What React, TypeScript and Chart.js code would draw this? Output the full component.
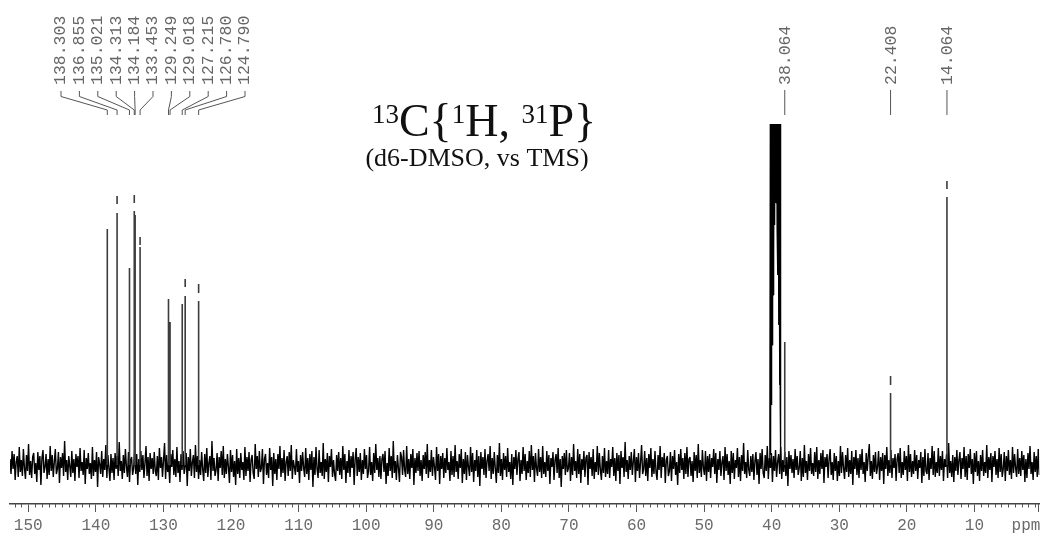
import React, { useEffect, useRef } from "react";
import { Chart, registerables } from "chart.js";

Chart.register(...registerables);

// ---- axis ----
const xMinPpm = 0.4;
const xMaxPpm = 152.7;
const axisTicks = [150, 140, 130, 120, 110, 100, 90, 80, 70, 60, 50, 40, 30, 20, 10];

// ---- labelled aromatic peaks (ppm, intensity above baseline) ----
const leftPeakPpm = [138.303, 136.855, 135.021, 134.313, 134.184, 133.453, 129.249, 129.018, 127.215, 126.78, 124.79];
const leftPeakHeight = [236, 252, 197, 254, 250, 218, 166, 143, 161, 169, 164];
const leftPeakDashLow = [0, 261, 0, 262, 0, 220, 0, 0, 0, 178, 172];
const leftPeakDashHigh = [0, 269, 0, 270, 0, 228, 0, 0, 0, 186, 181];

// ---- labelled aliphatic peaks ----
const rightPeakPpm = [38.064, 22.408, 14.064];
const rightPeakHeight = [123, 72, 268];
const rightPeakDashLow = [0, 80, 276];
const rightPeakDashHigh = [0, 89, 284];

// ---- solvent multiplet (d6-DMSO) ----
const solventPpm = [40.28, 40.21, 40.15, 40.09, 40.03, 39.97, 39.91, 39.85, 39.79, 39.73, 39.67, 39.62, 39.56, 39.5, 39.44, 39.38, 39.32, 39.26, 39.2, 39.14, 39.08, 39.02, 38.96, 38.91, 38.85, 38.79, 38.74, 38.7, 38.64];
const solventHeight = [0, 341, 10, 341, 60, 341, 120, 341, 170, 341, 210, 341, 240, 341, 262, 341, 262, 341, 235, 341, 190, 341, 140, 341, 80, 341, 60, 341, 0];

// ---- baseline noise (estimated along the spectrum, left to right) ----
const noise = [
  6, -9, 14, -4, 11, -15, 3, 9, -12, 18, -7, 5, -11, 16, -3, -14, 10, -6, 21, -10,
  4, -13, 8, 12, -9, 2, -17, 13, -5, 9, -20, 7, 15, -8, -2, 11, -14, 6, -10, 19,
  -6, 10, -12, 3, 16, -9, -4, 13, -18, 8, -3, 12, -11, 24, -7, 5, -15, 9, -1, -12,
  14, -8, 6, -16, 11, -2, 9, -13, 17, -6, 3, -10, 15, -19, 7, -4, 12, -9, 2, -14,
  18, -11, 5, -7, 13, -22, 8, 1, -9, 14, -12, 6, -5, 20, -13, 10, -3, -16, 11, -8,
  7, -15, 12, -4, 9, -11, 23, -6, 4, -14, 10, -8, 16, -2, -12, 13, -17, 5, 8, -10,
  -3, 15, -9, 11, -20, 6, -7, 14, -5, 10, -13, 2, 19, -11, 8, -16, 12, -4, 7, -9,
  13, -6, -11, 9, -15, 17, -3, 8, -12, 5, 22, -14, 10, -7, 3, -18, 11, -2, 15, -10,
  6, -12, 18, -8, 4, -17, 11, -5, 14, -9, -2, 12, -21, 8, -6, 16, -11, 3, 10, -13,
  20, -7, 9, -14, 5, -10, 13, -4, -16, 11, -8, 17, -12, 2, 9, -15, 24, -6, 7, -11,
  -5, 12, -16, 8, -3, 14, -10, 19, -13, 6, -9, 11, -2, -18, 15, -7, 10, -12, 4, -20,
  16, -9, 7, -13, 12, -5, 3, -15, 18, -11, 8, -6, 13, -17, 5, 10, -8, -14, 21, -4,
  9, -12, 14, -7, -3, 16, -19, 6, 11, -10, 2, -13, 17, -5, 8, -21, 12, -9, 6, -15,
  11, -4, 19, -12, 7, -8, 15, -16, 3, 9, -11, 13, -6, 20, -14, 5, -2, -10, 16, -7,
  4, -18, 10, -6, 13, -3, -12, 17, -9, 7, -15, 11, -5, 14, -22, 8, -10, 18, -4, -13,
  15, -8, 3, -11, 22, -14, 6, -7, 12, -17, 9, -2, 16, -12, 5, -9, -16, 10, -6, 13,
  -10, 7, -14, 19, -5, 11, -18, 4, -8, 15, -12, 9, -3, 13, -20, 6, 17, -11, 8, -7,
  12, -15, 5, -9, 16, -4, 10, -13, -6, 18, -10, 3, -16, 12, -8, 21, -5, 7, -12, 9,
  -14, 6, 11, -7, 14, -19, 2, -11, 17, -6, 9, -13, 24, -8, 4, -15, 10, -3, -17, 13,
  8, -10, 15, -5, -12, 19, -9, 6, -14, 11, -3, 16, -20, 7, -8, 12, -6, 14, -11, 5,
  -16, 10, -4, 13, -9, 21, -13, 5, -7, 15, -11, 8, -2, -15, 18, -6, 11, -19, 9, -4,
  12, -13, 7, -8, 17, -5, 3, -16, 14, -10, 9, -12, 20, -7, 4, -14, 11, -3, 16, -18,
  6, -9, 13, -15, 10, -2, -11, 18, -7, 12, -17, 5, -6, 15, -12, 9, -21, 13, -4, 8,
  -10, 16, -13, 4, 11, -6, 19, -14, 7, -9, 13, -3, -18, 10, -8, 22, -11, 6, -15, 12,
  -5, 9, -12, 17, -7, 3, -14, 11, -20, 8, -4, 15, -10, 6, 13, -16, 5, -9, 18, -6,
  11, -15, 4, -8, 14, -12, 20, -5, 9, -17, 12, -3, -11, 16, -7, 8, -13, 19, -9, 3,
  -12, 14, -6, 10, -19, 7, -2, 13, -15, 5, 11, -8, 17, -13, 6, -22, 9, -4, 12, -10,
  15, -7, -3, 12, -16, 8, -10, 21, -6, 4, -13, 16, -9, 11, -18, 6, -5, 14, -12, 7,
  10, -20, 13, -4, 8, -11, 16, -14, 3, -7, 19, -10, 12, -5, -15, 9, -8, 17, -12, 4,
  -9, 15, -13, 6, -2, 18, -11, 7, -16, 12, -6, 10, -19, 14, -3, 8, -12, 23, -7, 5,
  -14, 9, -5, 13, -10, 4, 16, -17, 8, -6, 12, -13, 3, 20, -9, -4, 14, -11, 7, -16,
  11, -3, 17, -12, 6, -9, 14, -7, -15, 10, -5, 19, -13, 8, -2, 12, -18, 5, 9, -11,
  -6, 13, -16, 9, -4, 15, -10, 3, -20, 11, -8, 16, -5, 7, -14, 12, -9, 18, -12, 6,
  8, -11, 4, -17, 13, -6, 10, -13, 21, -8, 5, -12, 15, -3, -10, 14, -16, 9, -7, 11,
  -13, 7, -2, 16, -9, 12, -18, 6, -5, 14, -11, 3, 9, -15, 18, -6, 11, -10, 4, -19,
  14, -8, 12, -14, 5, -3, 17, -12, 8, -16, 10, -6, 22, -9, 3, -13, 15, -5, -11, 9,
  -7, 11, -15, 4, 13, -10, 6, -19, 12, -4, 16, -8, -13, 10, -6, 19, -14, 7, -3, 12,
  -17, 9, -6, 15, -12, 3, 11, -9, 18, -14, 5, -7, 13, -11, 8, -21, 14, -4, 10, -8,
  6, -13, 16, -5, 9, -10, -3, 14, -16, 7, -12, 20, -8, 4, -15, 11, -6, 17, -9, 2,
  -11, 13, -7, 18, -14, 5, -9, 12, -4, 15, -18, 8, -2, 11, -13, 6, 16, -10, 3, -15,
  12, -6, 9, -16, 4, -11, 19, -8, 13, -3, -14, 10, -7, 17, -12, 5, -9, 14, -20, 8,
  -4, 15, -10, 7, -13, 11, -5, 16, -9, 3, -17, 12, -6, 9, 21, -11, 4, -14, 10, -7,
  13, -9, -2, 14, -15, 8, -6, 12, -19, 10, -4, 18, -11, 5, -8, 15, -13, 7, -3, 11,
  -16, 6, 12, -8, 17, -13, 3, -10, 14, -5, 9, -16, 20, -7, 11, -12, 4, -9, 15, -6,
  10, -14, 5, -3, 13, -18, 8, -11, 16, -6, -9, 12, -15, 7, -4, 19, -10, 14, -12, 3,
  -8, 17, -11, 9, -5, 14, -16, 6, -2, 11, -13, 22, -8, 4, -12, 10, -17, 8, -6, 15,
  -10, 5, 13, -14, 7, -4, 18, -12, 9, -15, 11, -3, 16, -9, 6, -19, 12, -7, 14, -11,
  4, -16, 10, -6, 15, -11, 3, -8, 20, -13, 8, -5, 12, -17, 9, -2, 14, -10, 6, -13,
  17, -7, 11, -12, -4, 13, -16, 9, -6, 15, -10, 5, -14, 18, -8, 11, -3, -12, 16, -9,
  7, -11, 14, -5, 10, -17, 6, -13, 12, -4, 19, -9, 3, -15, 13, -7, 9, -12, 16, -10,
];

const MONO = "'Liberation Mono', 'DejaVu Sans Mono', monospace";
const SERIF = "'Liberation Serif', 'DejaVu Serif', serif";

type Pt = { x: number; y: number | null };

function buildPeaks(): Pt[] {
  const pts: Pt[] = [];
  const add = (p: number, h: number, dl: number, dh: number) => {
    pts.push({ x: p, y: 0 }, { x: p, y: h }, { x: p, y: null });
    if (dh > 0) pts.push({ x: p, y: dl }, { x: p, y: dh }, { x: p, y: null });
  };
  leftPeakPpm.forEach((p, i) => add(p, leftPeakHeight[i], leftPeakDashLow[i], leftPeakDashHigh[i]));
  rightPeakPpm.forEach((p, i) => add(p, rightPeakHeight[i], rightPeakDashLow[i], rightPeakDashHigh[i]));
  return pts;
}

const decorPlugin = {
  id: "nmrDecor",
  afterDraw(chart: any) {
    const ctx: CanvasRenderingContext2D = chart.ctx;
    const xs = chart.scales.x;
    const area = chart.chartArea;
    const axisY = area.bottom;
    ctx.save();

    // minor ticks every 1 ppm
    ctx.strokeStyle = "#555";
    ctx.lineWidth = 1;
    ctx.beginPath();
    for (let p = 1; p <= 152; p++) {
      if (p % 10 === 0) continue;
      const x = Math.round(xs.getPixelForValue(p)) + 0.5;
      ctx.moveTo(x, axisY);
      ctx.lineTo(x, axisY + 3.5);
    }
    const xr = Math.round(area.right) - 0.5;
    ctx.moveTo(xr, axisY);
    ctx.lineTo(xr, axisY + 8);
    ctx.stroke();

    // "ppm" unit label
    ctx.fillStyle = "#6a6a6a";
    ctx.font = `16px ${MONO}`;
    ctx.textAlign = "center";
    ctx.textBaseline = "middle";
    ctx.fillText("ppm", 1026, 525.6);

    // peak labels + leader lines
    ctx.strokeStyle = "#555";
    ctx.lineWidth = 1;
    const drawLabel = (text: string, lx: number) => {
      ctx.save();
      ctx.translate(lx, 85);
      ctx.rotate(-Math.PI / 2);
      ctx.textAlign = "left";
      ctx.textBaseline = "middle";
      ctx.fillStyle = "#666";
      ctx.font = `16.5px ${MONO}`;
      ctx.fillText(text, 0, 0);
      ctx.restore();
    };
    const lx0 = 61;
    const dx = 18.4;
    leftPeakPpm.forEach((p, i) => {
      const lx = lx0 + i * dx;
      const px = xs.getPixelForValue(p);
      ctx.beginPath();
      ctx.moveTo(lx, 91);
      ctx.lineTo(lx, 96.5);
      ctx.lineTo(px, 110);
      ctx.lineTo(px, 115);
      ctx.stroke();
      drawLabel(p.toFixed(3), lx);
    });
    rightPeakPpm.forEach((p) => {
      const px = xs.getPixelForValue(p);
      ctx.beginPath();
      ctx.moveTo(px, 90);
      ctx.lineTo(px, 115);
      ctx.stroke();
      drawLabel(p.toFixed(3), px + 1);
    });

    // title
    const parts = [
      { t: "13", sup: true },
      { t: "C{", sup: false },
      { t: "1", sup: true },
      { t: "H, ", sup: false },
      { t: "31", sup: true },
      { t: "P}", sup: false },
    ];
    const bigFont = `46px ${SERIF}`;
    const supFont = `27px ${SERIF}`;
    let total = 0;
    const widths = parts.map((pt) => {
      ctx.font = pt.sup ? supFont : bigFont;
      const w = ctx.measureText(pt.t).width;
      total += w;
      return w;
    });
    let cx = 484 - total / 2;
    ctx.fillStyle = "#111";
    ctx.textAlign = "left";
    ctx.textBaseline = "alphabetic";
    parts.forEach((pt, i) => {
      ctx.font = pt.sup ? supFont : bigFont;
      ctx.fillText(pt.t, cx, pt.sup ? 123 : 136);
      cx += widths[i];
    });
    ctx.font = `26px ${SERIF}`;
    ctx.textAlign = "center";
    ctx.fillText("(d6-DMSO, vs TMS)", 477, 166);

    ctx.restore();
  },
};

export default function App() {
  const ref = useRef<HTMLCanvasElement>(null);
  useEffect(() => {
    const canvas = ref.current;
    if (!canvas) return;
    const step = (xMaxPpm - xMinPpm) / (noise.length - 1);
    const noisePoints = noise.map((v, i) => ({ x: xMaxPpm - i * step, y: v }));
    const solventPoints = solventPpm.map((p, i) => ({ x: p, y: solventHeight[i] }));
    const chart = new Chart(canvas, {
      type: "line",
      data: {
        datasets: [
          {
            label: "peaks",
            data: buildPeaks() as any,
            borderColor: "#3c3c3c",
            borderWidth: 1.6,
            pointRadius: 0,
            spanGaps: false,
            borderCapStyle: "butt",
            order: 1,
          },
          {
            label: "solvent",
            data: solventPoints,
            borderColor: "#000",
            borderWidth: 1.2,
            pointRadius: 0,
            borderJoinStyle: "bevel",
            order: 2,
          },
          {
            label: "noise",
            data: noisePoints,
            borderColor: "#000",
            borderWidth: 1.4,
            pointRadius: 0,
            borderJoinStyle: "bevel",
            order: 3,
          },
        ],
      },
      options: {
        responsive: false,
        animation: false,
        devicePixelRatio: 1,
        events: [],
        layout: { padding: { left: 10, right: 7.7, top: 0, bottom: 0 } },
        plugins: { legend: { display: false }, tooltip: { enabled: false } },
        elements: { line: { tension: 0 } },
        scales: {
          x: {
            type: "linear",
            reverse: true,
            min: xMinPpm,
            max: xMaxPpm,
            position: "bottom",
            afterBuildTicks: (s: any) => {
              s.ticks = axisTicks.map((v) => ({ value: v }));
            },
            afterFit: (s: any) => {
              s.height = 33;
            },
            grid: { drawOnChartArea: false, drawTicks: true, tickLength: 8, tickColor: "#555", tickWidth: 1 },
            border: { display: true, color: "#444", width: 1.5 },
            ticks: {
              autoSkip: false,
              maxRotation: 0,
              padding: 4,
              color: "#6a6a6a",
              font: { family: MONO, size: 16 },
              callback: (v: any) => String(v),
            },
          },
          y: { type: "linear", display: false, min: -39, max: 465 },
        },
      },
      plugins: [decorPlugin],
    });
    return () => chart.destroy();
  }, []);
  return (
    <div style={{ position: "absolute", left: 0, top: 0, width: 1047, height: 537, background: "#fff" }}>
      <canvas ref={ref} width={1047} height={537} style={{ display: "block", width: 1047, height: 537 }} />
    </div>
  );
}
